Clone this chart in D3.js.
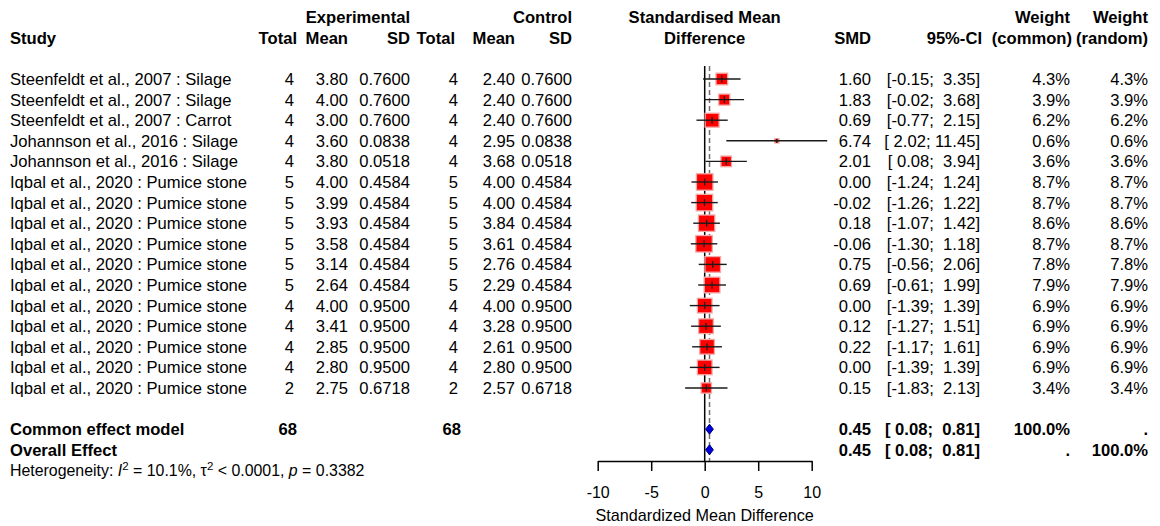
<!DOCTYPE html>
<html>
<head>
<meta charset="utf-8">
<script src="https://cdn.jsdelivr.net/npm/d3@7"></script>
<style>
  body { margin: 0; background: #fff; }
  svg { display: block; font-family: "Liberation Sans", Arial, sans-serif; }
</style>
</head>
<body>
<svg id="chart" width="1160" height="526"></svg>
<script>
// study rows
const studies = [
  "Steenfeldt et al., 2007 : Silage", "Steenfeldt et al., 2007 : Silage", "Steenfeldt et al., 2007 : Carrot",
  "Johannson et al., 2016 : Silage", "Johannson et al., 2016 : Silage",
  "Iqbal et al., 2020 : Pumice stone", "Iqbal et al., 2020 : Pumice stone", "Iqbal et al., 2020 : Pumice stone",
  "Iqbal et al., 2020 : Pumice stone", "Iqbal et al., 2020 : Pumice stone", "Iqbal et al., 2020 : Pumice stone",
  "Iqbal et al., 2020 : Pumice stone", "Iqbal et al., 2020 : Pumice stone", "Iqbal et al., 2020 : Pumice stone",
  "Iqbal et al., 2020 : Pumice stone", "Iqbal et al., 2020 : Pumice stone"
];
const expTotal = [4, 4, 4, 4, 4, 5, 5, 5, 5, 5, 5, 4, 4, 4, 4, 2];
const expMean = [3.80, 4.00, 3.00, 3.60, 3.80, 4.00, 3.99, 3.93, 3.58, 3.14, 2.64, 4.00, 3.41, 2.85, 2.80, 2.75];
const expSD = [0.76, 0.76, 0.76, 0.0838, 0.0518, 0.4584, 0.4584, 0.4584, 0.4584, 0.4584, 0.4584, 0.95, 0.95, 0.95, 0.95, 0.6718];
const ctrlTotal = [4, 4, 4, 4, 4, 5, 5, 5, 5, 5, 5, 4, 4, 4, 4, 2];
const ctrlMean = [2.40, 2.40, 2.40, 2.95, 3.68, 4.00, 4.00, 3.84, 3.61, 2.76, 2.29, 4.00, 3.28, 2.61, 2.80, 2.57];
const ctrlSD = [0.76, 0.76, 0.76, 0.0838, 0.0518, 0.4584, 0.4584, 0.4584, 0.4584, 0.4584, 0.4584, 0.95, 0.95, 0.95, 0.95, 0.6718];
const smd = [1.60, 1.83, 0.69, 6.74, 2.01, 0.00, -0.02, 0.18, -0.06, 0.75, 0.69, 0.00, 0.12, 0.22, 0.00, 0.15];
const ciLow = [-0.15, -0.02, -0.77, 2.02, 0.08, -1.24, -1.26, -1.07, -1.30, -0.56, -0.61, -1.39, -1.27, -1.17, -1.39, -1.83];
const ciHigh = [3.35, 3.68, 2.15, 11.45, 3.94, 1.24, 1.22, 1.42, 1.18, 2.06, 1.99, 1.39, 1.51, 1.61, 1.39, 2.13];
const wCommon = [4.3, 3.9, 6.2, 0.6, 3.6, 8.7, 8.7, 8.6, 8.7, 7.8, 7.9, 6.9, 6.9, 6.9, 6.9, 3.4];
const wRandom = [4.3, 3.9, 6.2, 0.6, 3.6, 8.7, 8.7, 8.6, 8.7, 7.8, 7.9, 6.9, 6.9, 6.9, 6.9, 3.4];

// pooled rows
const summaryLabels = ["Common effect model", "Overall Effect"];
const summaryExpTotal = ["68", ""];
const summaryCtrlTotal = ["68", ""];
const summarySMD = [0.45, 0.45];
const summaryLow = [0.08, 0.08];
const summaryHigh = [0.81, 0.81];
const summaryWCommon = ["100.0%", "."];
const summaryWRandom = [".", "100.0%"];

const axisTicks = [-10, -5, 0, 5, 10];
const axisLabel = "Standardized Mean Difference";

const svg = d3.select("#chart");
const fs = 16.6;

// row grid: row i centre
const y = d3.scaleLinear().domain([0, 1]).range([79, 99.6]);
const x = d3.scaleLinear().domain([-10, 10]).range([597.7, 811.7]);
const size = d3.scaleSqrt().domain([0, 8.7]).range([0, 16.5]);

const col = { study: 10, totE: 294, meanE: 348, sdE: 410, totC: 458, meanC: 515, sdC: 572,
  smd: 871, ci: 980, wc: 1070, wr: 1148 };

// plain hyphen minus, as in the original
const fmt2 = v => v.toFixed(2);
const pad = s => (s.length < 5 ? " ".repeat(5 - s.length) + s : s);
const ciText = (lo, hi) => `[${pad(fmt2(lo))}; ${pad(fmt2(hi))}]`;

function txt(xp, row, s, anchor, bold) {
  svg.append("text")
    .attr("x", xp)
    .attr("y", y(row) + 6)
    .attr("text-anchor", anchor || "end")
    .attr("font-size", fs)
    .attr("font-weight", bold ? "bold" : "normal")
    .attr("xml:space", "preserve")
    .style("white-space", "pre")
    .text(s);
}

// header
txt(col.sdE, -3, "Experimental", "end", true);
txt(col.sdC, -3, "Control", "end", true);
txt(x(0), -3, "Standardised Mean", "middle", true);
txt(col.wc, -3, "Weight", "end", true);
txt(col.wr, -3, "Weight", "end", true);
txt(col.study, -2, "Study", "start", true);
txt(col.totE + 3, -2, "Total", "end", true);
txt(col.meanE, -2, "Mean", "end", true);
txt(col.sdE, -2, "SD", "end", true);
txt(col.totC - 3, -2, "Total", "end", true);
txt(col.meanC, -2, "Mean", "end", true);
txt(col.sdC, -2, "SD", "end", true);
txt(x(0), -2, "Difference", "middle", true);
txt(col.smd, -2, "SMD", "end", true);
txt(col.ci + 2, -2, "95%-CI", "end", true);
txt(col.wc + 2, -2, "(common)", "end", true);
txt(col.wr, -2, "(random)", "end", true);

// study table
studies.forEach((s, i) => {
  txt(col.study, i, s, "start");
  txt(col.totE, i, String(expTotal[i]));
  txt(col.meanE, i, fmt2(expMean[i]));
  txt(col.sdE, i, expSD[i].toFixed(4));
  txt(col.totC, i, String(ctrlTotal[i]));
  txt(col.meanC, i, fmt2(ctrlMean[i]));
  txt(col.sdC, i, ctrlSD[i].toFixed(4));
  txt(col.smd, i, fmt2(smd[i]));
  txt(col.ci, i, ciText(ciLow[i], ciHigh[i]));
  txt(col.wc, i, wCommon[i].toFixed(1) + "%");
  txt(col.wr, i, wRandom[i].toFixed(1) + "%");
});

// summary rows
summaryLabels.forEach((s, j) => {
  const r = 17 + j;
  txt(col.study, r, s, "start", true);
  txt(col.totE + 3, r, summaryExpTotal[j], "end", true);
  txt(col.totC + 3, r, summaryCtrlTotal[j], "end", true);
  txt(col.smd, r, fmt2(summarySMD[j]), "end", true);
  txt(col.ci, r, ciText(summaryLow[j], summaryHigh[j]), "end", true);
  txt(col.wc, r, summaryWCommon[j], "end", true);
  txt(col.wr, r, summaryWRandom[j], "end", true);
});

// heterogeneity
const het = svg.append("text")
  .attr("x", col.study).attr("y", y(19) + 6)
  .attr("font-size", 15.9);
het.append("tspan").text("Heterogeneity: ");
het.append("tspan").attr("font-style", "italic").text("I");
het.append("tspan").attr("dy", -6).attr("font-size", 11.5).text("2");
het.append("tspan").attr("dy", 6).text(" = 10.1%, \u03c4");
het.append("tspan").attr("dy", -6).attr("font-size", 11.5).text("2");
het.append("tspan").attr("dy", 6).text(" < 0.0001, ");
het.append("tspan").attr("font-style", "italic").text("p");
het.append("tspan").text(" = 0.3382");

// forest plot
const axisY = 461;
const plot = svg.append("g");

plot.append("line")
  .attr("x1", x(0)).attr("x2", x(0))
  .attr("y1", y(-0.63)).attr("y2", axisY)
  .attr("stroke", "#000").attr("stroke-width", 1.5);

plot.append("line")
  .attr("x1", x(summarySMD[0])).attr("x2", x(summarySMD[0]))
  .attr("y1", y(-0.63)).attr("y2", axisY)
  .attr("stroke", "#6e6e6e").attr("stroke-width", 1.5)
  .attr("stroke-dasharray", "5,3");

studies.forEach((s, i) => {
  const side = size(wCommon[i]);
  const cx = x(smd[i]);
  const cy = y(i);
  plot.append("rect")
    .attr("x", cx - side / 2).attr("y", cy - side / 2)
    .attr("width", side).attr("height", side)
    .attr("fill", "#ff0000")
    .attr("stroke", "#f3a8a8").attr("stroke-width", 1.3);
  plot.append("line")
    .attr("x1", x(ciLow[i])).attr("x2", x(ciHigh[i]))
    .attr("y1", cy).attr("y2", cy)
    .attr("stroke", "#1a1a1a").attr("stroke-width", 1.4);
  plot.append("line")
    .attr("x1", cx).attr("x2", cx)
    .attr("y1", cy - Math.min(3.5, side / 2)).attr("y2", cy + Math.min(3.5, side / 2))
    .attr("stroke", "#1a1a1a").attr("stroke-width", 1.2);
});

summaryLabels.forEach((s, j) => {
  const cy = y(17 + j);
  const h = 5;
  plot.append("polygon")
    .attr("points", [
      [x(summaryLow[j]), cy], [x(summarySMD[j]), cy - h],
      [x(summaryHigh[j]), cy], [x(summarySMD[j]), cy + h]
    ].map(p => p.join(",")).join(" "))
    .attr("fill", "#0000dd")
    .attr("stroke", "#00007a").attr("stroke-width", 1);
});

// axis
const ax = svg.append("g")
  .attr("transform", `translate(0,${axisY})`)
  .call(d3.axisBottom(x).tickValues(axisTicks).tickSize(10).tickSizeOuter(0).tickPadding(16)
    .tickFormat(d => String(d)));
ax.select(".domain").attr("stroke", "#000").attr("stroke-width", 1.5);
ax.selectAll(".tick line").attr("stroke", "#000").attr("stroke-width", 1.5);
ax.selectAll(".tick text")
  .attr("font-size", 16)
  .attr("font-family", "'Liberation Sans', Arial, sans-serif")
  .attr("fill", "#000");

svg.append("text")
  .attr("x", x(0)).attr("y", 521)
  .attr("text-anchor", "middle")
  .attr("font-size", 16.2)
  .text(axisLabel);
</script>
</body>
</html>
